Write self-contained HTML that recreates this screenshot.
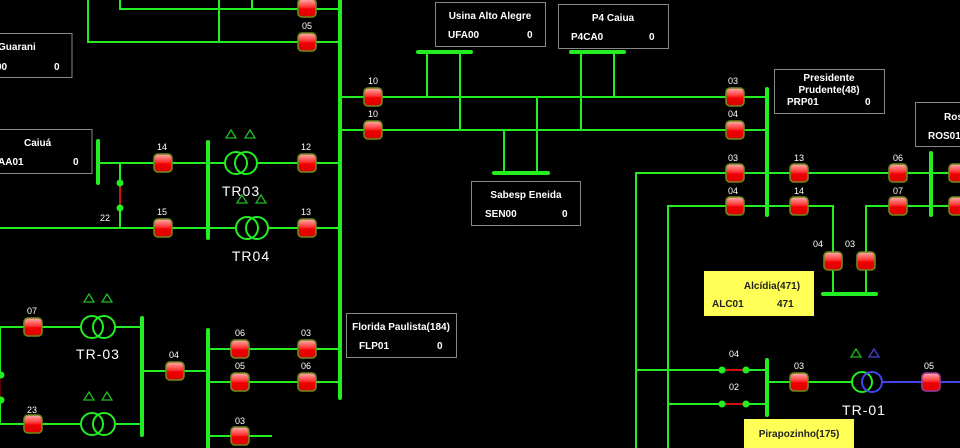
<!DOCTYPE html>
<html><head><meta charset="utf-8"><style>
html,body{margin:0;padding:0;background:#000;width:960px;height:448px;overflow:hidden}
svg{display:block}
text{font-family:"Liberation Sans","DejaVu Sans",sans-serif}
.n{fill:#fff;font-size:9px;text-anchor:middle}
.bt{fill:#fff;font-size:10px;font-weight:bold}
.yt{fill:#222;font-size:10px;font-weight:bold}
.tr{fill:#fff;font-size:14px;text-anchor:middle;letter-spacing:1px}
</style></head><body>
<svg width="960" height="448" viewBox="0 0 960 448" xmlns="http://www.w3.org/2000/svg">
<defs>
<linearGradient id="g" x1="0" y1="0" x2="0" y2="1">
<stop offset="0" stop-color="#ffb0b0"/><stop offset="0.45" stop-color="#ff3030"/><stop offset="0.55" stop-color="#ee0000"/><stop offset="1" stop-color="#dd0000"/></linearGradient>
<symbol id="b" viewBox="0 0 20 20" width="20" height="20"><rect x="1" y="1" width="18" height="18" rx="4" fill="url(#g)" stroke="#6f8a1a" stroke-width="1.6"/></symbol>
<symbol id="bm" viewBox="0 0 20 20" width="20" height="20"><rect x="1" y="1" width="18" height="18" rx="4" fill="url(#g)" stroke="#9a3a9a" stroke-width="1.6"/></symbol>
</defs>
<g stroke="#22ee22" stroke-width="2" fill="none">
<!-- top left -->
<polyline points="120,0 120,9 340,9"/><line x1="219" y1="0" x2="219" y2="42"/><line x1="252" y1="0" x2="252" y2="9"/>
<polyline points="88,0 88,42 340,42"/>
<!-- main lines -->
<line x1="340" y1="97" x2="767" y2="97"/><line x1="340" y1="130" x2="767" y2="130"/>
<line x1="427" y1="52" x2="427" y2="97"/><line x1="460" y1="52" x2="460" y2="130"/>
<line x1="581" y1="52" x2="581" y2="130"/><line x1="614" y1="52" x2="614" y2="97"/>
<line x1="504" y1="130" x2="504" y2="173"/><line x1="537" y1="97" x2="537" y2="173"/>
<polyline points="636,448 636,173 960,173"/>
<polyline points="668,448 668,206 833,206 833,294"/>
<polyline points="866,294 866,206 960,206"/>
<!-- Caiua -->
<line x1="98" y1="163" x2="208" y2="163"/><line x1="208" y1="163" x2="225" y2="163"/><line x1="257" y1="163" x2="340" y2="163"/>
<line x1="120" y1="163" x2="120" y2="183"/><line x1="120" y1="208" x2="120" y2="228"/>
<line x1="0" y1="228" x2="208" y2="228"/><line x1="208" y1="228" x2="236" y2="228"/><line x1="268" y1="228" x2="340" y2="228"/>
<!-- lower left -->
<line x1="0" y1="327" x2="81" y2="327"/><line x1="115" y1="327" x2="142" y2="327"/>
<line x1="0" y1="424" x2="81" y2="424"/><line x1="115" y1="424" x2="142" y2="424"/>
<line x1="0" y1="327" x2="0" y2="375"/><line x1="0" y1="400" x2="0" y2="424"/>
<line x1="142" y1="371" x2="208" y2="371"/>
<line x1="208" y1="349" x2="340" y2="349"/><line x1="208" y1="382" x2="340" y2="382"/><line x1="208" y1="436" x2="272" y2="436"/>
<!-- pirapozinho -->
<line x1="636" y1="370" x2="767" y2="370"/><line x1="668" y1="404" x2="767" y2="404"/>
<line x1="767" y1="382" x2="851" y2="382"/>
</g>
<g stroke="#cc1111" stroke-width="2"><line x1="723" y1="370" x2="746" y2="370"/><line x1="723" y1="404" x2="746" y2="404"/><line x1="120" y1="184" x2="120" y2="207"/><line x1="0" y1="376" x2="0" y2="399" stroke="#660000"/></g>
<line x1="883" y1="382" x2="960" y2="382" stroke="#4444ee" stroke-width="2"/>
<!-- buses -->
<g stroke="#22ee22" stroke-width="4" stroke-linecap="round">
<line x1="340" y1="0" x2="340" y2="398"/>
<line x1="418" y1="52" x2="471" y2="52"/><line x1="571" y1="52" x2="624" y2="52"/>
<line x1="494" y1="173" x2="548" y2="173"/>
<line x1="767" y1="89" x2="767" y2="215"/><line x1="931" y1="153" x2="931" y2="215"/>
<line x1="823" y1="294" x2="876" y2="294"/>
<line x1="767" y1="360" x2="767" y2="415"/>
<line x1="98" y1="141" x2="98" y2="183"/><line x1="208" y1="142" x2="208" y2="238"/>
<line x1="142" y1="318" x2="142" y2="435"/><line x1="208" y1="330" x2="208" y2="448"/>
</g>
<g fill="#22ee22"><circle cx="722" cy="370" r="3.5"/><circle cx="746" cy="370" r="3.5"/><circle cx="722" cy="404" r="3.5"/><circle cx="746" cy="404" r="3.5"/><circle cx="120" cy="183" r="3.5"/><circle cx="120" cy="208" r="3.5"/><circle cx="1" cy="375" r="3.5"/><circle cx="1" cy="400" r="3.5"/></g>
<!-- transformers -->
<g fill="none" stroke="#22ee22" stroke-width="2">
<circle cx="236" cy="163" r="11"/><circle cx="246" cy="163" r="11"/>
<circle cx="247" cy="228" r="11"/><circle cx="257" cy="228" r="11"/>
<circle cx="92" cy="327" r="11"/><circle cx="104" cy="327" r="11"/>
<circle cx="92" cy="424" r="11"/><circle cx="104" cy="424" r="11"/>
<circle cx="862" cy="382" r="10"/>
</g>
<circle cx="872" cy="382" r="10" fill="none" stroke="#4444ee" stroke-width="2"/>
<g fill="none" stroke="#22bb22" stroke-width="1.3">
<polygon points="231,130 226,138 236,138"/><polygon points="250,130 245,138 255,138"/>
<polygon points="242,195 237,203 247,203"/><polygon points="261,195 256,203 266,203"/>
<polygon points="89,294 84,302 94,302"/><polygon points="107,294 102,302 112,302"/>
<polygon points="89,392 84,400 94,400"/><polygon points="107,392 102,400 112,400"/>
<polygon points="856,349 851,357 861,357"/>
</g>
<polygon points="874,349 869,357 879,357" fill="none" stroke="#4444cc" stroke-width="1.3"/>
<!-- breakers -->
<use href="#b" x="297" y="-2"/><use href="#b" x="297" y="32"/>
<use href="#b" x="363" y="87"/><use href="#b" x="363" y="120"/>
<use href="#b" x="725" y="87"/><use href="#b" x="725" y="120"/>
<use href="#b" x="725" y="163"/><use href="#b" x="725" y="196"/>
<use href="#b" x="789" y="163"/><use href="#b" x="789" y="196"/>
<use href="#b" x="888" y="163"/><use href="#b" x="888" y="196"/>
<use href="#b" x="948" y="163"/><use href="#b" x="948" y="196"/>
<use href="#b" x="823" y="251"/><use href="#b" x="856" y="251"/>
<use href="#b" x="789" y="372"/><use href="#bm" x="921" y="372"/>
<use href="#b" x="153" y="153"/><use href="#b" x="153" y="218"/>
<use href="#b" x="297" y="153"/><use href="#b" x="297" y="218"/>
<use href="#b" x="23" y="317"/><use href="#b" x="23" y="414"/>
<use href="#b" x="165" y="361"/>
<use href="#b" x="230" y="339"/><use href="#b" x="297" y="339"/>
<use href="#b" x="230" y="372"/><use href="#b" x="297" y="372"/>
<use href="#b" x="230" y="426"/>
<!-- labels -->
<g class="n">
<text x="307" y="29">05</text>
<text x="373" y="84">10</text><text x="373" y="117">10</text>
<text x="733" y="84">03</text><text x="733" y="117">04</text>
<text x="733" y="161">03</text><text x="733" y="194">04</text>
<text x="799" y="161">13</text><text x="799" y="194">14</text>
<text x="898" y="161">06</text><text x="898" y="194">07</text>
<text x="818" y="247">04</text><text x="850" y="247">03</text>
<text x="734" y="357">04</text><text x="734" y="390">02</text>
<text x="799" y="369">03</text><text x="929" y="369">05</text>
<text x="162" y="150">14</text><text x="162" y="215">15</text><text x="105" y="221">22</text>
<text x="306" y="150">12</text><text x="306" y="215">13</text>
<text x="32" y="314">07</text><text x="32" y="413">23</text>
<text x="174" y="358">04</text>
<text x="240" y="336">06</text><text x="306" y="336">03</text>
<text x="240" y="369">05</text><text x="306" y="369">06</text>
<text x="240" y="424">03</text>
</g>
<g class="tr"><text x="241" y="196">TR03</text><text x="251" y="261">TR04</text><text x="98" y="359">TR-03</text><text x="864" y="415">TR-01</text></g>
<!-- boxes -->
<g fill="#000" stroke="#888" stroke-width="1">
<rect x="-5" y="33.5" width="77" height="44"/>
<rect x="-5" y="129.5" width="97" height="44"/>
<rect x="435.5" y="2.5" width="110" height="44"/>
<rect x="558.5" y="4.5" width="110" height="44"/>
<rect x="471.5" y="181.5" width="109" height="44"/>
<rect x="774.5" y="69.5" width="110" height="44"/>
<rect x="915.5" y="102.5" width="60" height="44"/>
<rect x="346.5" y="313.5" width="110" height="44"/>
</g>
<rect x="704" y="271" width="110" height="45" fill="#ffff55"/>
<rect x="744" y="419" width="110" height="40" fill="#ffff55"/>
<g class="bt">
<text x="-2" y="50">Guarani</text><text x="-4" y="70">00</text><text x="54" y="70">0</text>
<text x="24" y="146">Caiuá</text><text x="-2" y="165">AA01</text><text x="73" y="165">0</text>
<text x="490" y="19" text-anchor="middle">Usina Alto Alegre</text><text x="448" y="38">UFA00</text><text x="527" y="38">0</text>
<text x="613" y="21" text-anchor="middle">P4 Caiua</text><text x="571" y="40">P4CA0</text><text x="649" y="40">0</text>
<text x="526" y="198" text-anchor="middle">Sabesp Eneida</text><text x="485" y="217">SEN00</text><text x="562" y="217">0</text>
<text x="829" y="81" text-anchor="middle">Presidente</text><text x="829" y="93" text-anchor="middle">Prudente(48)</text><text x="787" y="105">PRP01</text><text x="865" y="105">0</text>
<text x="944" y="120">Ros</text><text x="928" y="139">ROS01</text>
<text x="401" y="330" text-anchor="middle">Florida Paulista(184)</text><text x="359" y="349">FLP01</text><text x="437" y="349">0</text>
</g>
<g class="yt">
<text x="772" y="289" text-anchor="middle">Alcídia(471)</text><text x="712" y="307">ALC01</text><text x="777" y="307">471</text>
<text x="799" y="437" text-anchor="middle">Pirapozinho(175)</text>
</g>
</svg>
</body></html>
